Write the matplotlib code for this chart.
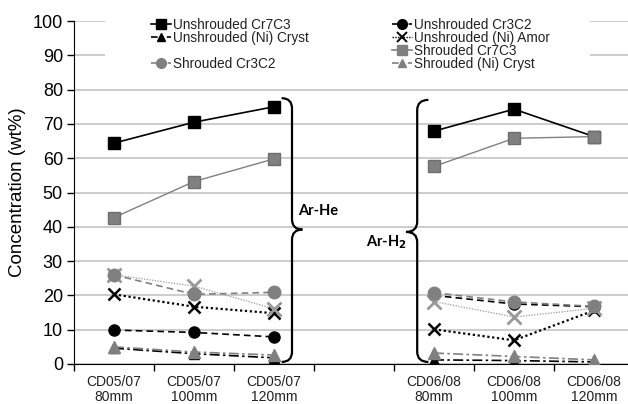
import numpy as np
import matplotlib
matplotlib.use("Agg")
import matplotlib.pyplot as plt
from matplotlib.path import Path
from matplotlib.patches import PathPatch, Rectangle
from matplotlib.lines import Line2D

plt.rcParams['font.family'] = ['Liberation Sans', 'DejaVu Sans']

categories = ["CD05/07\n80mm", "CD05/07\n100mm", "CD05/07\n120mm", "",
              "CD06/08\n80mm", "CD06/08\n100mm", "CD06/08\n120mm"]
nan = np.nan
uns_cr7c3 = [64.4, 70.5, 75.0, nan, 67.9, 74.3, 66.3]
uns_cr3c2 = [9.9, 9.2, 7.9, nan, 20.0, 17.5, 16.7]
uns_cryst = [4.6, 3.0, 1.8, nan, 1.2, 1.0, 0.6]
uns_amor = [20.3, 16.7, 14.8, nan, 10.1, 6.9, 15.6]
shr_cr7c3 = [42.7, 53.2, 59.8, nan, 57.6, 65.8, 66.3]
shr_cr3c2 = [26.0, 20.3, 20.9, nan, 20.8, 18.1, 16.8]
shr_cryst = [5.0, 3.5, 2.6, nan, 3.2, 2.2, 1.2]
shr_amor = [26.0, 22.7, 16.1, nan, 18.2, 13.7, 16.2]

W, H = 628, 404
fig = plt.figure(figsize=(W / 100, H / 100), dpi=100)
ax = fig.add_axes([74 / W, (H - 364) / H, 560 / W, 343 / H])

x = np.arange(len(categories))
gray = "#808080"

ax.plot(x, uns_cr7c3, color="black", lw=1.2, marker="s", ms=8, mfc="black", mec="black", zorder=5)
ax.plot(x, uns_cr3c2, color="black", lw=1.2, ls=(0, (4, 2.5)), marker="o", ms=8, mfc="black", mec="black", zorder=5)
ax.plot(x, uns_amor, color="black", lw=1.6, ls=(0, (1, 1.2)), marker="x", ms=9, mew=1.8, zorder=5)
ax.plot(x, uns_cryst, color="black", lw=1.2, ls=(0, (6, 2, 1.5, 2)), marker="^", ms=7, mfc="black", mec="black", zorder=4)
ax.plot(x, shr_cr7c3, color=gray, lw=1.0, marker="s", ms=8, mfc=gray, mec="#6e6e6e", zorder=5)
ax.plot(x, shr_cr3c2, color=gray, lw=1.2, ls=(0, (4, 2.5)), marker="o", ms=9, mfc=gray, mec=gray, zorder=6)
ax.plot(x, shr_amor, color="#999999", lw=0.9, ls=(0, (1, 1.2)), marker="x", ms=10, mew=2, mec="#999999", zorder=5)
ax.plot(x, shr_cryst, color=gray, lw=1.2, ls=(0, (6, 2, 1.5, 2)), marker="^", ms=8, mfc=gray, mec=gray, zorder=5)

ax.set_xlim(-0.5, len(categories) - 0.5)
ax.set_ylim(0, 100)
ax.set_yticks(np.arange(0, 101, 10))
ax.yaxis.grid(True, color="#c4c4c4", lw=1.2)
ax.set_axisbelow(True)
for s in ["top", "right"]:
    ax.spines[s].set_visible(False)
ax.tick_params(axis="y", direction="out", length=5, width=1, pad=3, labelsize=13)
ax.set_xticks(x)
ax.set_xticklabels(categories, fontsize=10, color="#222222", linespacing=1.1)
ax.tick_params(axis="x", which="major", length=0, pad=8)
ax.set_xticks(np.arange(-0.5, len(categories), 1.0), minor=True)
ax.tick_params(axis="x", which="minor", direction="out", length=5, width=1)
ax.set_ylabel("Concentration (wt%)", fontsize=13.5, labelpad=5)

# white area behind the legend
fig.patches.append(Rectangle((105 / W, (H - 80) / H), 485 / W, 72 / H,
                             transform=fig.transFigure, facecolor="white",
                             edgecolor="none", zorder=1))


def brace(x0, ytop, ybot, ymid, w, r, direction):
    d = direction
    verts = [(x0 - d * w, ytop), (x0, ytop), (x0, ytop - r),
             (x0, ymid + r), (x0, ymid), (x0 + d * w, ymid),
             (x0, ymid), (x0, ymid - r),
             (x0, ybot + r), (x0, ybot), (x0 - d * w, ybot)]
    codes = [Path.MOVETO, Path.CURVE3, Path.CURVE3,
             Path.LINETO, Path.CURVE3, Path.CURVE3,
             Path.CURVE3, Path.CURVE3,
             Path.LINETO, Path.CURVE3, Path.CURVE3]
    ax.add_patch(PathPatch(Path(verts, codes), facecolor="none",
                           edgecolor="black", lw=1.6, clip_on=False, zorder=7))


brace(2.225, 77.5, 0.6, 39.2, 0.13, 3.0, 1)
brace(3.79, 77.0, 0.6, 38.5, 0.14, 3.0, -1)
ax.text(2.3, 44.5, "Ar-He", fontsize=10.5, fontweight="bold", family=["Lato", "DejaVu Sans"],
        ha="left", va="center")
ax.text(3.66, 35.5, "Ar-H$_\\mathbf{2}$", fontsize=10.5, fontweight="bold",
        family=["Lato", "DejaVu Sans"], ha="right", va="center")

h_u7 = Line2D([], [], color="black", lw=1.2, marker="s", ms=7)
h_u3 = Line2D([], [], color="black", lw=1.2, ls=(0, (3, 2)), marker="o", ms=7)
h_ua = Line2D([], [], color="black", lw=1.0, ls=(0, (1, 1)), marker="x", ms=7, mew=1.4)
h_uc = Line2D([], [], color="black", lw=1.2, ls=(0, (4, 2, 1.5, 2)), marker="^", ms=6)
h_s7 = Line2D([], [], color=gray, lw=1.2, marker="s", ms=7)
h_s3 = Line2D([], [], color=gray, lw=1.2, ls=(0, (3, 2)), marker="o", ms=7)
h_sc = Line2D([], [], color=gray, lw=1.2, ls=(0, (4, 2, 1.5, 2)), marker="^", ms=6)
h_blank = Line2D([], [], color="none")
handles = [h_u7, h_uc, h_blank, h_s3, h_u3, h_ua, h_s7, h_sc]
labels = ["Unshrouded Cr7C3", "Unshrouded (Ni) Cryst", "", "Shrouded Cr3C2",
          "Unshrouded Cr3C2", "Unshrouded (Ni) Amor", "Shrouded Cr7C3", "Shrouded (Ni) Cryst"]
leg = fig.legend(handles, labels, ncol=2, loc="upper left",
                 bbox_to_anchor=(144 / W, (H - 11) / H), frameon=False,
                 fontsize=9.8, handlelength=1.5, handletextpad=0.15,
                 columnspacing=6.1, labelspacing=-0.08, borderpad=0,
                 labelcolor="#222222")
leg.set_zorder(8)

fig.savefig("out.png", dpi=100)
